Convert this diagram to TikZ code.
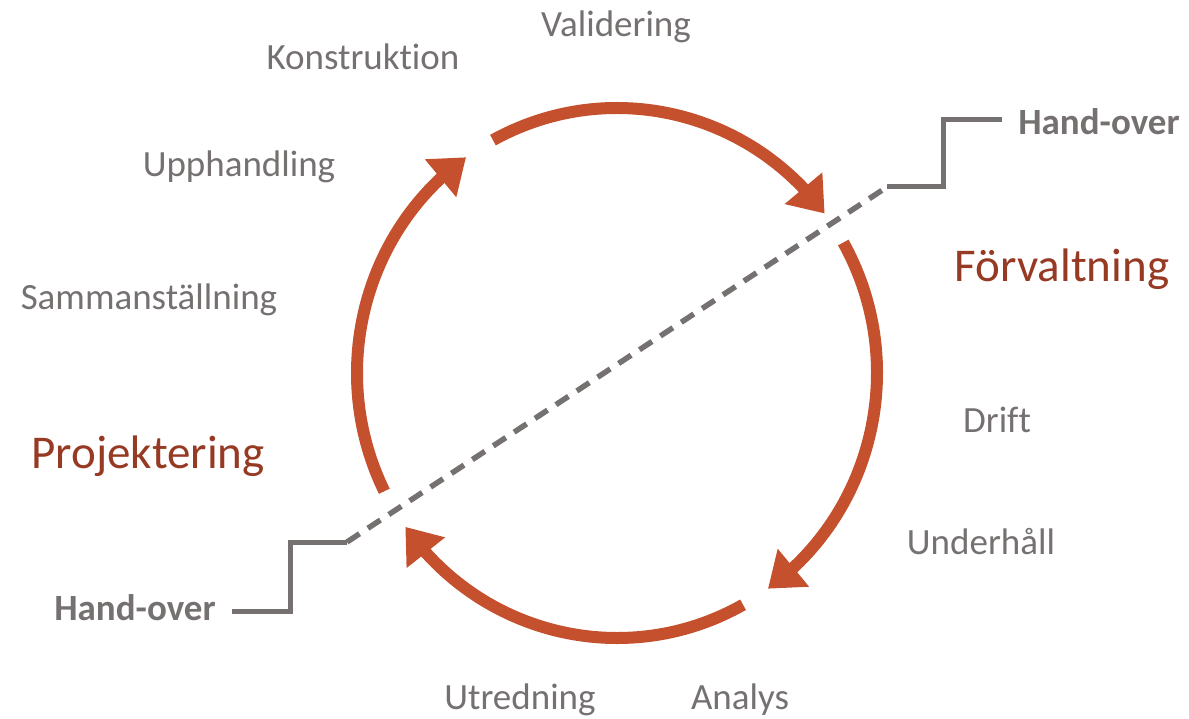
\documentclass[tikz,border=0pt]{standalone}
\usepackage{fontspec}
\setmainfont{Carlito}[Ligatures={NoCommon,NoRequired,NoContextual}]
\usetikzlibrary{arrows.meta,bending}
\definecolor{arcorange}{RGB}{196,80,46}
\definecolor{headred}{RGB}{150,58,35}
\definecolor{txtgrey}{RGB}{118,113,113}
\tikzset{
  cyclearc/.style={draw=arcorange, line width=12pt, line cap=butt, -{Triangle[length=33pt,width=47pt,flex]}},
  steplabel/.style={text=txtgrey, inner sep=0pt, font=\fontsize{37}{40}\selectfont},
  phaselabel/.style={text=headred, inner sep=0pt, font=\fontsize{47}{50}\selectfont},
  handlabel/.style={text=txtgrey, inner sep=0pt, font=\fontsize{37}{40}\selectfont\bfseries},
  stepline/.style={draw=txtgrey, line width=5pt, line join=miter},
  dashline/.style={draw=txtgrey, line width=5.5pt, dash pattern=on 15pt off 10pt}
}
\begin{document}
\begin{tikzpicture}[x=1pt,y=-1pt]
\useasboundingbox (0,0) rectangle (1189,719);
\coordinate (c) at (617,373);
% cycle arcs (image angles: clockwise positive)
\draw[cyclearc] ([shift={(-206.5:260 and 265)}]c) arc[start angle=-206.5, end angle=-125.5, x radius=260, y radius=265];
\draw[cyclearc] ([shift={(-118.5:260 and 265)}]c) arc[start angle=-118.5, end angle=-37, x radius=260, y radius=265];
\draw[cyclearc] ([shift={(-29.5:260 and 265)}]c) arc[start angle=-29.5, end angle=54.5, x radius=260, y radius=265];
\draw[cyclearc] ([shift={(61:260 and 265)}]c) arc[start angle=61, end angle=144.5, x radius=260, y radius=265];
% labels
\node[steplabel] (val) at (616,27) {Validering};
\node[steplabel] (kon) at (363,57) {Konstrukt\kern0pt ion};
\node[steplabel] (upp) at (239,167) {Upphandling};
\node[steplabel] (sam) at (149,300) {Sammanställning};
\node[phaselabel] (proj) at (148,456) {Projektering};
\node[phaselabel] (forv) at (1062,269) {Förvaltning};
\node[steplabel] (drift) at (997,420) {Drif\kern0pt t};
\node[steplabel] (und) at (981,542) {Underhåll};
\node[steplabel] (utr) at (520,700) {Utredning};
\node[steplabel] (ana) at (740,700) {Analys};
\node[handlabel] (hl) at (135,608) {Hand-over};
\node[handlabel] (hr) at (1099,122) {Hand-over};
% hand-over step line
\coordinate (l0) at (232,611);
\coordinate (l1) at (290,611);
\coordinate (l2) at (290,542);
\coordinate (l3) at (347,542);
\coordinate (r3) at (887,187);
\coordinate (r2) at (943,187);
\coordinate (r1) at (943,120);
\coordinate (r0) at (1002,120);
\draw[stepline] (l0) -- (l1) -- (l2) -- (l3);
\draw[dashline] (l3) -- (r3);
\draw[stepline] (r3) -- (r2) -- (r1) -- (r0);
\end{tikzpicture}
\end{document}
